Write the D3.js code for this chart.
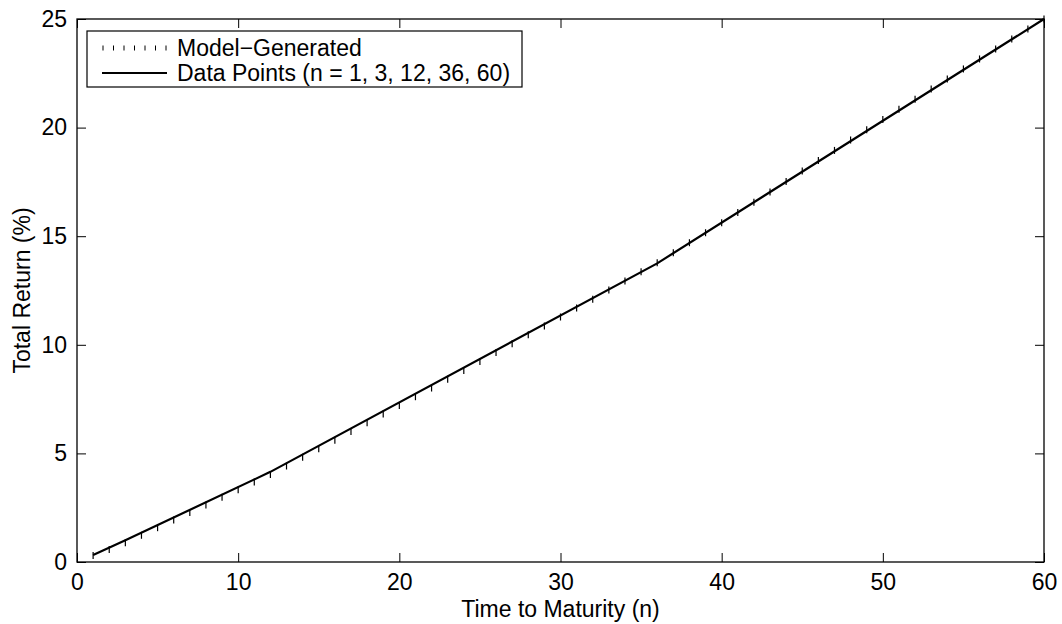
<!DOCTYPE html>
<html>
<head>
<meta charset="utf-8">
<script src="https://cdn.jsdelivr.net/npm/d3@7"></script>
<style>
  body { margin: 0; background: #fff; }
  text { font-family: "Liberation Sans", Arial, sans-serif; fill: #000; }
</style>
</head>
<body>
<script>
'use strict';

// model curve, one value per month n = 1..60
const modelN = d3.range(1, 61);
const modelReturn = [
  0.30, 0.58, 0.89, 1.23, 1.58, 1.93, 2.28, 2.63, 2.98, 3.33,
  3.68, 4.03, 4.42, 4.82, 5.21, 5.61, 6.01, 6.41, 6.81, 7.21,
  7.61, 8.01, 8.41, 8.82, 9.23, 9.64, 10.05, 10.46, 10.87, 11.28,
  11.69, 12.10, 12.52, 12.94, 13.36, 13.78, 14.24, 14.70, 15.16, 15.62,
  16.09, 16.56, 17.04, 17.52, 18.00, 18.48, 18.95, 19.43, 19.90, 20.37,
  20.84, 21.31, 21.78, 22.24, 22.70, 23.16, 23.62, 24.08, 24.54, 25.00
];
// observed data points
const dataN = [1, 3, 12, 36, 60];
const dataReturn = [0.32, 1.00, 4.15, 13.75, 25.00];

const xTicks = [0, 10, 20, 30, 40, 50, 60];
const yTicks = [0, 5, 10, 15, 20, 25];
const legendLabels = ["Model\u2212Generated", "Data Points (n = 1, 3, 12, 36, 60)"];

const W = 1062, H = 624,
      plotLeft = 77, plotRight = 1044, plotTop = 19, plotBottom = 562,
      tickLen = 9,
      fontSize = 23;

const svg = d3.select("body").append("svg")
  .attr("width", W).attr("height", H);

const x = d3.scaleLinear([0, 60], [plotLeft, plotRight]);
const y = d3.scaleLinear([0, 25], [plotBottom, plotTop]);

// plot box
svg.append("rect")
  .attr("x", plotLeft).attr("y", plotTop)
  .attr("width", plotRight - plotLeft).attr("height", plotBottom - plotTop)
  .attr("fill", "#fff").attr("stroke", "#000").attr("stroke-width", 1.3);

// axes, MATLAB style ticks pointing inward
const axB = d3.axisBottom(x).tickValues(xTicks).tickSizeInner(-tickLen).tickSizeOuter(0).tickPadding(12);
const axT = d3.axisTop(x).tickValues(xTicks).tickSizeInner(-tickLen).tickSizeOuter(0).tickFormat("");
const axL = d3.axisLeft(y).tickValues(yTicks).tickSizeInner(-tickLen).tickSizeOuter(0).tickPadding(10);
const axR = d3.axisRight(y).tickValues(yTicks).tickSizeInner(-tickLen).tickSizeOuter(0).tickFormat("");

function styleAxis(g) {
  g.select(".domain").remove();
  g.selectAll(".tick line").attr("stroke", "#000").attr("stroke-width", 1);
  g.selectAll(".tick text")
    .style("font-family", "'Liberation Sans', Arial, sans-serif")
    .style("font-size", fontSize + "px");
}
svg.append("g").attr("transform", `translate(0,${plotBottom})`).call(axB).call(styleAxis);
svg.append("g").attr("transform", `translate(0,${plotTop})`).call(axT).call(styleAxis);
svg.append("g").attr("transform", `translate(${plotLeft},0)`).call(axL).call(styleAxis);
svg.append("g").attr("transform", `translate(${plotRight},0)`).call(axR).call(styleAxis);

// model markers: short vertical bars
const half = 3.5;
svg.append("g").selectAll("line")
  .data(modelN.map((n, i) => [n, modelReturn[i]]))
  .join("line")
  .attr("x1", d => x(d[0])).attr("x2", d => x(d[0]))
  .attr("y1", d => y(d[1]) - half).attr("y2", d => y(d[1]) + half)
  .attr("stroke", "#000").attr("stroke-width", 1.2);

// data line
const line = d3.line().x(d => x(d[0])).y(d => y(d[1]));
svg.append("path")
  .datum(dataN.map((n, i) => [n, dataReturn[i]]))
  .attr("d", line)
  .attr("fill", "none").attr("stroke", "#000").attr("stroke-width", 2.2);

// axis labels
svg.append("text")
  .attr("x", (plotLeft + plotRight) / 2).attr("y", 617)
  .attr("text-anchor", "middle").style("font-size", fontSize + "px")
  .text("Time to Maturity (n)");
svg.append("text")
  .attr("transform", `translate(30,${(plotTop + plotBottom) / 2}) rotate(-90)`)
  .attr("text-anchor", "middle").style("font-size", fontSize + "px")
  .text("Total Return (%)");

// legend
const lg = svg.append("g");
lg.append("rect")
  .attr("x", 87).attr("y", 31).attr("width", 435).attr("height", 56)
  .attr("fill", "#fff").attr("stroke", "#000").attr("stroke-width", 1.2);
const rowY = [48, 73];
lg.selectAll("line.mk")
  .data(d3.range(7))
  .join("line")
  .attr("class", "mk")
  .attr("x1", i => 103 + i * 10.5).attr("x2", i => 103 + i * 10.5)
  .attr("y1", rowY[0] - 2.5).attr("y2", rowY[0] + 2.5)
  .attr("stroke", "#000").attr("stroke-width", 1);
lg.append("line")
  .attr("x1", 102).attr("x2", 167).attr("y1", rowY[1]).attr("y2", rowY[1])
  .attr("stroke", "#000").attr("stroke-width", 2.2);
lg.selectAll("text")
  .data(legendLabels)
  .join("text")
  .attr("x", 177).attr("y", (d, i) => rowY[i] + 8)
  .style("font-size", fontSize + "px")
  .text(d => d);
</script>
</body>
</html>
